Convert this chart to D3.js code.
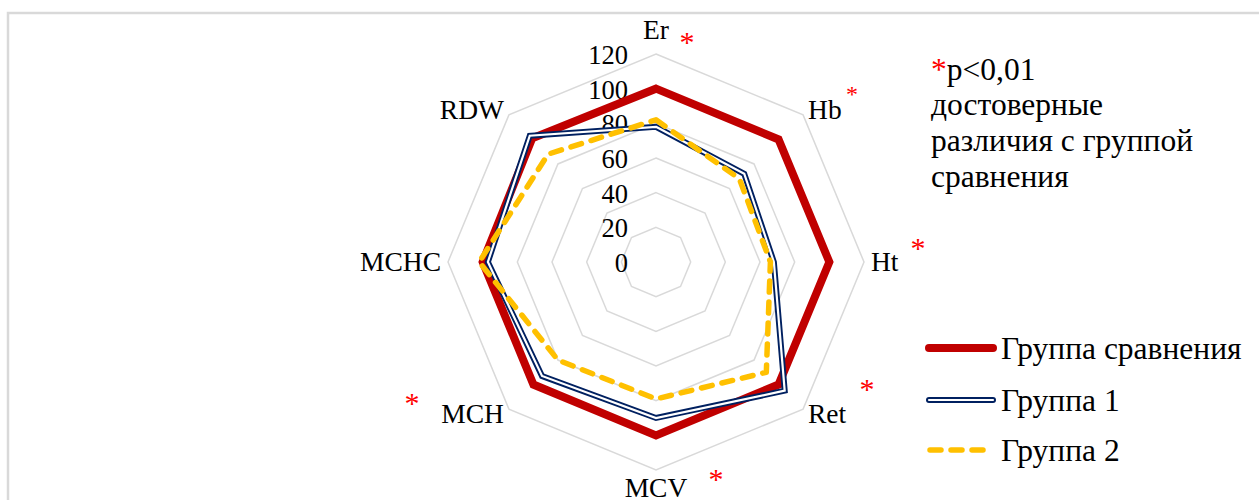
<!DOCTYPE html>
<html>
<head>
<meta charset="utf-8">
<script src="https://cdn.jsdelivr.net/npm/d3@7"></script>
<style>
  html, body { margin: 0; padding: 0; background: #fff; }
  svg { display: block; }
  text { font-family: "Liberation Serif", "Times New Roman", serif; fill: #000; }
</style>
</head>
<body>
<svg id="chart" width="1259" height="500"></svg>
<script>
// Blood parameters, % of comparison group
const categories = ["Er", "Hb", "Ht", "Ret", "MCV", "MCH", "MCHC", "RDW"];
const compareGroup = [100, 100, 100, 100, 100, 100, 100, 101];
const group1 = [78, 72, 68, 105, 90, 93, 97, 103];
const group2 = [82, 68, 66, 90, 79, 80, 102, 88];
const tickValues = [0, 20, 40, 60, 80, 100, 120];
const seriesNames = ["Группа сравнения", "Группа 1", "Группа 2"];
const noteLines = ["p<0,01", "достоверные", "различия с группой", "сравнения"];

const W = 1259, H = 500;
const cx = 656, cy = 262;
const svg = d3.select("#chart");

// frame of the figure
svg.append("path")
  .attr("d", `M8,500 L8,13 L${W},13`)
  .attr("fill", "none").attr("stroke", "#d9d9d9").attr("stroke-width", 2.5);

const r = d3.scaleLinear().domain([0, 120]).range([0, 208]);
const angle = d3.scalePoint().domain(categories).range([0, 2 * Math.PI * 7 / 8]);

const pt = (cat, v) => {
  const a = angle(cat);
  return [cx + r(v) * Math.sin(a), cy - r(v) * Math.cos(a)];
};

// grid octagons
const grid = svg.append("g");
tickValues.filter(v => v > 0).forEach(v => {
  grid.append("path")
    .attr("d", d3.line()(categories.map(c => pt(c, v))) + "Z")
    .attr("fill", "none").attr("stroke", "#d9d9d9").attr("stroke-width", 1.5);
});

// value labels along the vertical axis
svg.append("g").selectAll("text").data(tickValues).join("text")
  .attr("x", cx - 28).attr("y", d => cy - r(d)).attr("dy", "0.38em")
  .attr("text-anchor", "end").attr("font-size", 26.5)
  .text(d => d);

const lineGen = d3.line().curve(d3.curveLinearClosed);
const seriesPts = vals => categories.map((c, i) => pt(c, vals[i]));

// comparison group
svg.append("path").attr("d", lineGen(seriesPts(compareGroup)))
  .attr("fill", "none").attr("stroke", "#c00000").attr("stroke-width", 8)
  .attr("stroke-linejoin", "miter");
// group 1 (double line)
svg.append("path").attr("d", lineGen(seriesPts(group1)))
  .attr("fill", "none").attr("stroke", "#002060").attr("stroke-width", 6)
  .attr("stroke-linejoin", "miter");
svg.append("path").attr("d", lineGen(seriesPts(group1)))
  .attr("fill", "none").attr("stroke", "#fff").attr("stroke-width", 2.2)
  .attr("stroke-linejoin", "miter");
// group 2 (dashed)
svg.append("path").attr("d", lineGen(seriesPts(group2)))
  .attr("fill", "none").attr("stroke", "#ffc000").attr("stroke-width", 5.5)
  .attr("stroke-dasharray", "11,10").attr("stroke-linecap", "round")
  .attr("stroke-linejoin", "round");

// category labels
const labR = 215;
svg.append("g").selectAll("text").data(categories).join("text")
  .attr("font-size", 27.5)
  .each(function (c) {
    const a = angle(c), s = Math.sin(a), co = Math.cos(a);
    const x = cx + labR * s, y = cy - labR * co;
    let anchor = "middle", base = y + 9.3;
    if (s > 0.1) anchor = "start";
    else if (s < -0.1) anchor = "end";
    else if (co > 0) base = y - 8;
    else base = y + 20;
    d3.select(this).attr("x", x).attr("y", base).attr("text-anchor", anchor).text(c);
  });

// significance marks (offsets from chart centre)
const starOffsets = [[31, -225, 30], [196, -172, 24], [262, -19, 30], [211, 122, 30], [60, 212, 30], [-244, 136, 30]];
svg.append("g").selectAll("text").data(starOffsets).join("text")
  .attr("x", d => cx + d[0]).attr("y", d => cy + d[1] + d[2] * 0.5)
  .attr("text-anchor", "middle").attr("font-size", d => d[2])
  .style("fill", "#ff0000").text("*");

// note
const noteSize = 31.5;
const note = svg.append("text").attr("x", 931).attr("y", 80).attr("font-size", noteSize);
note.append("tspan").style("fill", "#ff0000").text("*");
note.append("tspan").text(noteLines[0]);
noteLines.slice(1).forEach((t, i) => {
  svg.append("text").attr("x", 931).attr("y", 115 + i * 35.8).attr("font-size", noteSize).text(t);
});

// legend
const legY = [348, 400, 450];
const leg = svg.append("g");
leg.append("line").attr("x1", 929).attr("x2", 993).attr("y1", legY[0]).attr("y2", legY[0])
  .attr("stroke", "#c00000").attr("stroke-width", 8).attr("stroke-linecap", "round");
leg.append("line").attr("x1", 929).attr("x2", 993).attr("y1", legY[1]).attr("y2", legY[1])
  .attr("stroke", "#002060").attr("stroke-width", 6).attr("stroke-linecap", "round");
leg.append("line").attr("x1", 929).attr("x2", 993).attr("y1", legY[1]).attr("y2", legY[1])
  .attr("stroke", "#fff").attr("stroke-width", 2.2).attr("stroke-linecap", "round");
leg.append("line").attr("x1", 930).attr("x2", 990).attr("y1", legY[2]).attr("y2", legY[2])
  .attr("stroke", "#ffc000").attr("stroke-width", 5.5).attr("stroke-linecap", "round")
  .attr("stroke-dasharray", "11,10");
leg.selectAll("text.lbl").data(seriesNames).join("text").attr("class", "lbl")
  .attr("x", 1001).attr("y", (d, i) => legY[i] + 11).attr("font-size", noteSize).text(d => d);
</script>
</body>
</html>
